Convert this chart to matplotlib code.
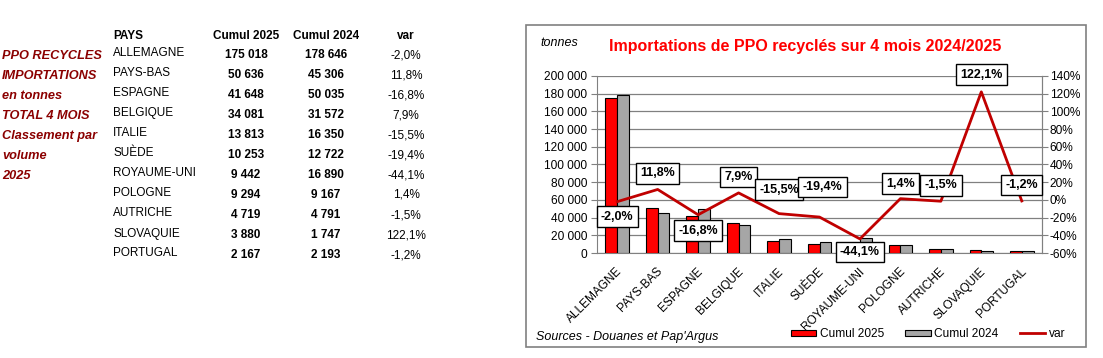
import matplotlib
matplotlib.use("Agg")
import matplotlib.pyplot as plt
import matplotlib.transforms as mtransforms
from matplotlib.patches import Rectangle, Patch
from matplotlib.lines import Line2D
import numpy as np

plt.rcParams['font.family'] = ['Liberation Sans', 'DejaVu Sans']

# data
pays = ["ALLEMAGNE", "PAYS-BAS", "ESPAGNE", "BELGIQUE", "ITALIE", "SUÈDE",
        "ROYAUME-UNI", "POLOGNE", "AUTRICHE", "SLOVAQUIE", "PORTUGAL"]
cumul_2025 = [175018, 50636, 41648, 34081, 13813, 10253, 9442, 9294, 4719, 3880, 2167]
cumul_2024 = [178646, 45306, 50035, 31572, 16350, 12722, 16890, 9167, 4791, 1747, 2193]
var = [-2.0, 11.8, -16.8, 7.9, -15.5, -19.4, -44.1, 1.4, -1.5, 122.1, -1.2]
side_text = ["PPO RECYCLES", "IMPORTATIONS", "en tonnes", "TOTAL 4 MOIS",
             "Classement par", "volume", "2025"]

W, H = 1103, 358
fig = plt.figure(figsize=(W / 100, H / 100), dpi=100)


def fx(x):
    return x / W


def fy(y):
    return 1 - y / H


def fmt_num(v):
    return f"{int(v):,}".replace(",", " ")


def fmt_pct(v):
    return f"{v:.1f}%".replace(".", ",")


# ---- left table ----
dark_red = "#8B0000"
for i, t in enumerate(side_text):
    fig.text(fx(2), fy(56 + 20 * i), t, color=dark_red, fontsize=9.2,
             fontweight="bold", style="italic", va="center", ha="left")

fig.text(fx(113), fy(36), "PAYS", fontsize=8.5, fontweight="bold", va="center")
fig.text(fx(246), fy(36), "Cumul 2025", fontsize=8.5, fontweight="bold", va="center", ha="center")
fig.text(fx(326), fy(36), "Cumul 2024", fontsize=8.5, fontweight="bold", va="center", ha="center")
fig.text(fx(406), fy(36), "var", fontsize=8.5, fontweight="bold", va="center", ha="center")
for i in range(len(pays)):
    y = 55 + 20 * i
    fig.text(fx(113), fy(y - 1.5), pays[i], fontsize=8.5, va="center")
    fig.text(fx(246), fy(y), fmt_num(cumul_2025[i]), fontsize=8.5, fontweight="bold",
             va="center", ha="center")
    fig.text(fx(326), fy(y), fmt_num(cumul_2024[i]), fontsize=8.5, fontweight="bold",
             va="center", ha="center")
    fig.text(fx(406), fy(y), fmt_pct(var[i]), fontsize=8.5, va="center", ha="center")

# ---- chart frame ----
fig.patches.append(Rectangle((fx(525.5), fy(347)), fx(1086 - 525.5), (347 - 25) / H,
                             transform=fig.transFigure, fill=False,
                             edgecolor="#808080", lw=1.2))

ax = fig.add_axes([fx(597), fy(253), fx(1042 - 597), (253 - 76) / H])
x = np.arange(len(pays))
w = 0.29
ax.bar(x - w / 2, cumul_2025, w, color="#FF0000", edgecolor="black", lw=0.8, zorder=3)
ax.bar(x + w / 2, cumul_2024, w, color="#A6A6A6", edgecolor="black", lw=0.8, zorder=3)
ax.set_xlim(-0.5, len(pays) - 0.5)
ax.set_ylim(0, 200000)
ax.set_yticks(np.arange(0, 200001, 20000))
ax.set_yticklabels([fmt_num(v) for v in np.arange(0, 200001, 20000)], fontsize=8.6)
ax.grid(axis="y", color="#808080", lw=0.9, zorder=0)
ax.set_axisbelow(True)
ax.set_xticks(x)
ax.set_xticklabels(pays, rotation=45, ha="right", va="center", rotation_mode="anchor",
                   fontsize=8.6)
ax.tick_params(axis="x", length=0, pad=12)
shift = mtransforms.ScaledTranslation(3 / 100, 0, fig.dpi_scale_trans)
for lab in ax.get_xticklabels():
    lab.set_transform(lab.get_transform() + shift)
ax.tick_params(axis="y", length=4, color="#808080", pad=3)
ax.spines["top"].set_visible(False)
for s in ["left", "bottom", "right"]:
    ax.spines[s].set_color("#808080")

ax2 = ax.twinx()
ax2.set_ylim(-60, 140)
ax2.set_yticks(np.arange(-60, 141, 20))
ax2.set_yticklabels([f"{v}%" for v in np.arange(-60, 141, 20)], fontsize=8.6)
ax2.tick_params(axis="y", length=4, color="#808080", pad=1.5)
for s in ["top", "left", "bottom"]:
    ax2.spines[s].set_visible(False)
ax2.spines["right"].set_color("#808080")
ax2.plot(x, var, color="#C00000", lw=2, zorder=4)

offsets = [-15, 16, -16, 16, 24, 30, -13, 15, 16, 17, 16]
dxs = [0, 0, 0, 0, 0, 3, 0, 0, 0, 0, 0]
for i, v in enumerate(var):
    ax2.annotate(fmt_pct(v), (x[i], v), xytext=(dxs[i], offsets[i]),
                 textcoords="offset pixels", ha="center", va="center",
                 fontsize=9, fontweight="bold", zorder=5,
                 bbox=dict(boxstyle="square,pad=0.35", fc="white", ec="black", lw=1))

# titles
fig.text(fx(805), fy(47), "Importations de PPO recyclés sur 4 mois 2024/2025",
         color="#FF0000", fontsize=11.5, fontweight="bold", ha="center", va="center")
fig.text(fx(540), fy(43), "tonnes", fontsize=9, style="italic", va="center")
fig.text(fx(536), fy(337), "Sources - Douanes et Pap'Argus", fontsize=9,
         style="italic", va="center")

handles = [Patch(fc="#FF0000", ec="black", lw=0.8),
           Patch(fc="#A6A6A6", ec="black", lw=0.8),
           Line2D([], [], color="#C00000", lw=2)]
fig.legend(handles, ["Cumul 2025", "Cumul 2024", "var"], loc="center left",
           bbox_to_anchor=(fx(791), fy(334)), ncol=3, frameon=False, fontsize=8.6,
           handlelength=2.1, handleheight=0.4, handletextpad=0.3, columnspacing=1.8,
           borderpad=0, borderaxespad=0)

fig.savefig("out.png", dpi=100)
